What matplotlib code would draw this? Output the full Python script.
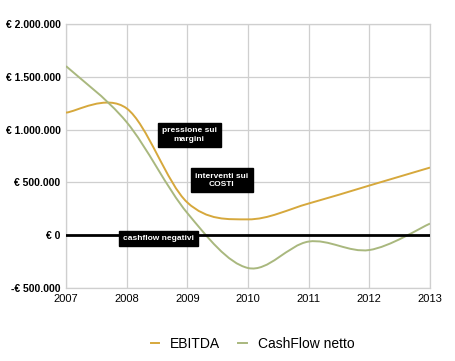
import numpy as np
import matplotlib
matplotlib.use("Agg")
import matplotlib.pyplot as plt
from matplotlib.path import Path
from matplotlib.patches import PathPatch
from matplotlib.lines import Line2D
from matplotlib.ticker import FuncFormatter

# Data (values in euro)
years = [2007, 2008, 2009, 2010, 2011, 2012, 2013]
ebitda = [1160000, 1200000, 310000, 150000, 300000, 470000, 640000]
cashflow = [1600000, 1070000, 210000, -310000, -60000, -140000, 110000]

# Annotations: text, x, y
notes_text = ["pressione sui\nmargini", "interventi sui\nCOSTI", "cashflow negativi"]
notes_x = [2009.03, 2009.57, 2008.52]
notes_y = [950000, 520000, -30000]

EBITDA_COLOR = "#d6a83c"
CASH_COLOR = "#a9b87e"

plt.rcParams['font.family'] = ['Liberation Sans', 'DejaVu Sans']


# Smoothed line like a spreadsheet chart: cubic bezier through every point
def smooth_path(xs, ys):
    pts = np.column_stack([xs, ys]).astype(float)
    ext = np.vstack([pts[0], pts, pts[-1]])
    verts = [pts[0]]
    codes = [Path.MOVETO]
    for i in range(len(pts) - 1):
        p0, p1, p2, p3 = ext[i], ext[i + 1], ext[i + 2], ext[i + 3]
        c1 = p1 + (p2 - p0) / 6.0
        c2 = p2 - (p3 - p1) / 6.0
        verts += [c1, c2, p2]
        codes += [Path.CURVE4] * 3
    return Path(verts, codes)


def euro(v, pos):
    if v == 0:
        return "€ 0"
    s = f"{abs(v):,.0f}".replace(",", ".")
    return ("-€ " if v < 0 else "€ ") + s


fig = plt.figure(figsize=(4.55, 3.61), dpi=100)
ax = fig.add_axes([0.145, 0.202, 0.80, 0.732])

ax.add_patch(PathPatch(smooth_path(years, ebitda), fill=False,
                       edgecolor=EBITDA_COLOR, lw=1.4, zorder=3))
ax.add_patch(PathPatch(smooth_path(years, cashflow), fill=False,
                       edgecolor=CASH_COLOR, lw=1.4, zorder=3))

ax.axhline(0, color="black", lw=2, zorder=4)

ax.set_xlim(2007, 2013)
ax.set_ylim(-500000, 2000000)
ax.set_xticks(years)
ax.set_yticks(np.arange(-500000, 2000001, 500000))
ax.yaxis.set_major_formatter(FuncFormatter(euro))
ax.grid(True, color="#cfcfcf", lw=0.9)
ax.set_axisbelow(True)
for sp in ax.spines.values():
    sp.set_color("#cfcfcf")
    sp.set_linewidth(0.9)
ax.tick_params(length=0, pad=4)
for lbl in ax.get_yticklabels():
    lbl.set_fontweight("bold")
    lbl.set_fontsize(7.5)
for lbl in ax.get_xticklabels():
    lbl.set_fontsize(8)

for t, x, y in zip(notes_text, notes_x, notes_y):
    ax.text(x, y, t, ha="center", va="center", color="white", fontsize=6,
            fontweight="bold", linespacing=1.3, zorder=5,
            bbox=dict(boxstyle="square,pad=0.5", fc="black", ec="black"))

handles = [Line2D([], [], color=EBITDA_COLOR, lw=1.4),
           Line2D([], [], color=CASH_COLOR, lw=1.4)]
fig.legend(handles, ["EBITDA", "CashFlow netto"], loc="center",
           bbox_to_anchor=(0.555, 0.047), ncol=2, frameon=False,
           fontsize=10, handlelength=0.6, handletextpad=0.8, columnspacing=1.3)

fig.savefig("out.png", dpi=100)
